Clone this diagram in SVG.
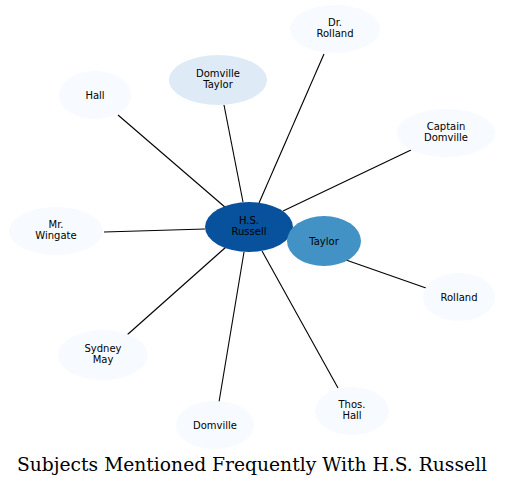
<svg xmlns="http://www.w3.org/2000/svg" width="505" height="486" viewBox="0 0 505 486">
<style>
.n text{font-family:"DejaVu Sans",sans-serif;font-size:10px;text-anchor:middle;fill:#000}
.l{fill:#f7fbff;stroke:none}
.e line{stroke:#000;stroke-width:1.1}
.t{font-family:"DejaVu Serif",serif;font-size:18.7px;text-anchor:middle;fill:#000}
</style>
<rect width="505" height="486" fill="#fff"/>
<g id="edges" class="e">
<line x1="226" y1="208" x2="118" y2="115"/>
<line x1="243" y1="202" x2="224" y2="105"/>
<line x1="259" y1="203" x2="324" y2="54"/>
<line x1="283" y1="211" x2="411" y2="150"/>
<line x1="205" y1="229" x2="104" y2="232"/>
<line x1="226" y1="247" x2="127" y2="335"/>
<line x1="244" y1="252" x2="219" y2="402"/>
<line x1="262" y1="251" x2="338" y2="388"/>
<line x1="346" y1="260" x2="426" y2="288"/>
</g>
<g id="russell" class="n"><ellipse cx="249" cy="227" rx="44" ry="25" fill="#08519c"/><text x="249" y="224">H.S.</text><text x="249" y="235">Russell</text></g>
<g id="taylor" class="n"><ellipse cx="324" cy="241" rx="37" ry="25" fill="#4292c6"/><text x="324" y="245">Taylor</text></g>
<g id="domville-taylor" class="n"><ellipse cx="218" cy="80" rx="49" ry="25" fill="#deebf7"/><text x="218" y="77">Domville</text><text x="218" y="88">Taylor</text></g>
<g id="dr-rolland" class="n"><ellipse class="l" cx="335" cy="29" rx="45" ry="24"/><text x="335" y="26">Dr.</text><text x="335" y="37">Rolland</text></g>
<g id="captain-domville" class="n"><ellipse class="l" cx="446" cy="133" rx="49" ry="24"/><text x="446" y="130">Captain</text><text x="446" y="141">Domville</text></g>
<g id="hall" class="n"><ellipse class="l" cx="95" cy="95" rx="36" ry="24"/><text x="95" y="99">Hall</text></g>
<g id="mr-wingate" class="n"><ellipse class="l" cx="56" cy="231" rx="47" ry="24"/><text x="56" y="228">Mr.</text><text x="56" y="239">Wingate</text></g>
<g id="rolland" class="n"><ellipse class="l" cx="459" cy="297" rx="36" ry="24"/><text x="459" y="301">Rolland</text></g>
<g id="sydney-may" class="n"><ellipse class="l" cx="103" cy="355" rx="45" ry="25"/><text x="103" y="352">Sydney</text><text x="103" y="363">May</text></g>
<g id="domville" class="n"><ellipse class="l" cx="215" cy="425" rx="39" ry="24"/><text x="215" y="429">Domville</text></g>
<g id="thos-hall" class="n"><ellipse class="l" cx="352" cy="411" rx="37" ry="24"/><text x="352" y="408">Thos.</text><text x="352" y="419">Hall</text></g>
<text class="t" x="252" y="471">Subjects Mentioned Frequently With H.S. Russell</text>
</svg>
